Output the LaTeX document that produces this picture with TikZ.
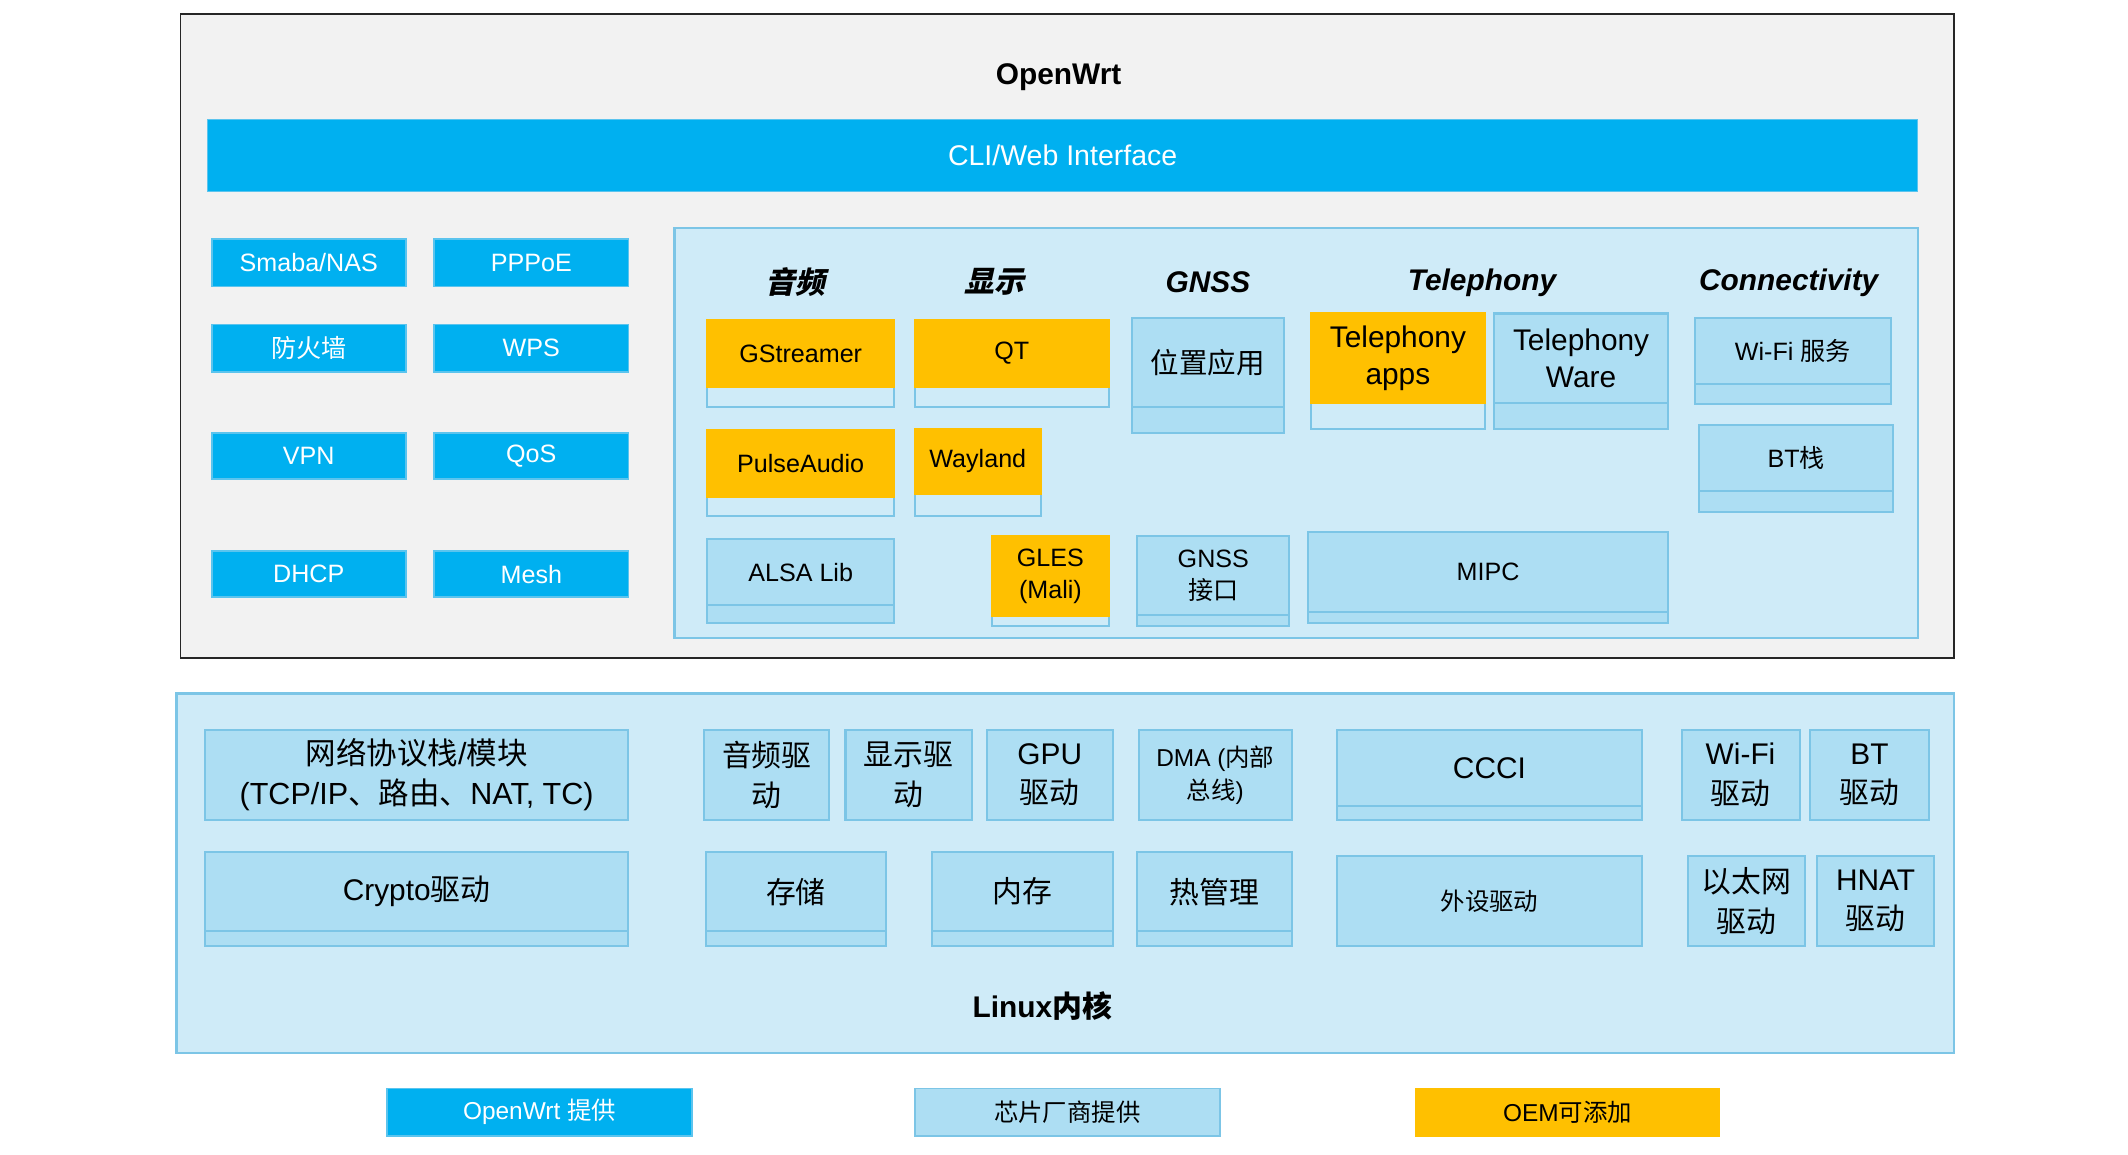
\documentclass[tikz,border=0pt]{standalone}
\usepackage{fontspec}
\setmainfont{Liberation Sans}
\newfontfamily\cjk{Noto Sans CJK SC}
\newfontfamily\cjksl{Noto Sans CJK SC}[FakeSlant=0.22]
\newcommand\zh[1]{{\cjk #1}}
\definecolor{bright}{HTML}{00B0F0}
\definecolor{brightedge}{HTML}{5BC4EE}
\definecolor{boxblue}{HTML}{ADDEF3}
\definecolor{panelblue}{HTML}{CFEBF8}
\definecolor{edgeblue}{HTML}{7CC5E6}
\definecolor{orange1}{HTML}{FFC000}
\definecolor{outerfill}{HTML}{F2F2F2}
\definecolor{outeredge}{HTML}{262626}
\tikzset{
  base/.style={inner sep=0pt, outer sep=0pt, align=center, anchor=north west, text=black},
  outer/.style={base, fill=outerfill, draw=outeredge, line width=1.4pt},
  panel/.style={base, fill=panelblue, draw=edgeblue, line width=1.6pt},
  brt/.style={base, fill=bright, draw=brightedge, line width=1.2pt, text=white, font=\fontsize{18.5}{22}\selectfont},
  lbx/.style={base, fill=boxblue, draw=edgeblue, line width=1.5pt, font=\fontsize{18.5}{23.5}\selectfont},
  obx/.style={base, fill=orange1, draw=orange1, line width=1.5pt, font=\fontsize{18.5}{23.5}\selectfont},
  ostrip/.style={base, fill=panelblue, draw=edgeblue, line width=1.5pt},
  bstrip/.style={base, fill=boxblue, draw=edgeblue, line width=1.5pt},
  big/.style={font=\fontsize{22}{27}\selectfont},
  kbx/.style={lbx, font=\fontsize{22}{29}\selectfont},
  hd/.style={inner sep=0pt, font=\fontsize{22}{26}\selectfont\bfseries\itshape},
  ttl/.style={inner sep=0pt, font=\fontsize{22}{26}\selectfont\bfseries},
  leg/.style={base, line width=1.2pt, font=\fontsize{18}{22}\selectfont}
}
% name, x1, y1, x2, y2, style, text
\newcommand\bx[7]{\node[#6, minimum width={(#4-#2)*1pt}, minimum height={(#5-#3)*1pt}] (#1) at (#2,#3) {#7};}
% name, x1, y1, x2, ydiv, y2, main style, strip style, text
\newcommand\tbx[9]{%
  \node[#8, minimum width={(#4-#2)*1pt}, minimum height={(#6-#5)*1pt}] (#1s) at (#2,#5) {};%
  \node[#7, minimum width={(#4-#2)*1pt}, minimum height={(#5-#3)*1pt}] (#1) at (#2,#3) {#9};}
\begin{document}
\begin{tikzpicture}[x={(1pt,0pt)}, y={(0pt,-1pt)}]
\useasboundingbox (0,0) rectangle (1568,851);
% ---------- OpenWrt ----------
\bx{owrt}{133}{10}{1440}{485}{outer}{}
\node[ttl] (title) at (780,57) {OpenWrt};
\bx{cli}{153}{88}{1413}{141}{brt, font=\fontsize{21}{25}\selectfont}{CLI/Web Interface}
\bx{smb}{156}{176}{299}{211}{brt}{Smaba/NAS}
\bx{ppp}{320}{176}{463}{211}{brt}{PPPoE}
\bx{fw}{156}{239}{299}{274}{brt}{\zh{防火墙}}
\bx{wps}{320}{239}{463}{274}{brt}{WPS}
\bx{vpn}{156}{319}{299}{353}{brt}{VPN}
\bx{qos}{320}{319}{463}{353}{brt}{QoS}
\bx{dhcp}{156}{406}{299}{440}{brt}{DHCP}
\bx{mesh}{320}{406}{463}{440}{brt}{Mesh}
\bx{app}{497}{168}{1413}{470}{panel}{}
\node[hd] (h1) at (586,208) {{\cjksl 音频}};
\node[hd] (h2) at (733,208) {{\cjksl 显示}};
\node[hd] (h3) at (890,208) {GNSS};
\node[hd] (h4) at (1092,208) {Telephony};
\node[hd] (h5) at (1318,208) {Connectivity};
\tbx{gst}{521}{236}{659}{285}{300}{obx}{ostrip}{GStreamer}
\tbx{qt}{674}{236}{817}{285}{300}{obx}{ostrip}{QT}
\tbx{pos}{834}{234}{946}{300}{319}{lbx, font=\fontsize{21}{25}\selectfont}{bstrip}{\zh{位置应用}}
\tbx{tapp}{966}{231}{1094}{297}{316}{obx, big}{ostrip}{Telephony\\apps}
\tbx{tware}{1101}{231}{1229}{297}{316}{lbx, big}{bstrip}{Telephony\\Ware}
\tbx{wifis}{1249}{234}{1393}{283}{298}{lbx}{bstrip}{Wi-Fi \zh{服务}}
\tbx{pulse}{521}{317}{659}{366}{380}{obx}{ostrip}{PulseAudio}
\tbx{wayl}{674}{316}{767}{364}{380}{obx}{ostrip}{Wayland}
\tbx{bts}{1252}{313}{1395}{362}{377}{lbx}{bstrip}{BT\zh{栈}}
\tbx{alsa}{521}{397}{659}{446}{459}{lbx}{bstrip}{ALSA Lib}
\tbx{gles}{731}{395}{817}{454}{461}{obx}{ostrip}{GLES\\(Mali)}
\tbx{gnssi}{838}{395}{950}{453}{461}{lbx}{bstrip}{GNSS\\\zh{接口}}
\tbx{mipc}{964}{392}{1229}{451}{459}{lbx}{bstrip}{MIPC}
% ---------- Linux kernel ----------
\bx{kern}{130}{511}{1440}{776}{panel}{}
\bx{net}{151}{538}{463}{604}{kbx, font=\fontsize{22.5}{29.5}\selectfont}{\zh{网络协议栈}/\zh{模块}\\(TCP/IP\zh{、路由、}NAT, TC)}
\bx{adrv}{519}{538}{611}{604}{kbx}{\zh{音频驱}\\\zh{动}}
\bx{ddrv}{623}{538}{716}{604}{kbx}{\zh{显示驱}\\\zh{动}}
\bx{gpu}{727}{538}{820}{604}{kbx}{GPU\\\zh{驱动}}
\bx{dma}{839}{538}{952}{604}{kbx, font=\fontsize{18}{24.5}\selectfont}{DMA (\zh{内部}\\\zh{总线})}
\tbx{ccci}{985}{538}{1210}{594}{604}{kbx, big}{bstrip}{CCCI}
\bx{wdrv}{1239}{538}{1326}{604}{kbx}{Wi-Fi\\\zh{驱动}}
\bx{bdrv}{1334}{538}{1421}{604}{kbx}{BT\\\zh{驱动}}
\tbx{cry}{151}{628}{463}{686}{697}{kbx}{bstrip}{Crypto\zh{驱动}}
\tbx{stor}{520}{628}{653}{686}{697}{kbx}{bstrip}{\zh{存储}}
\tbx{mem}{687}{628}{820}{686}{697}{kbx}{bstrip}{\zh{内存}}
\tbx{therm}{838}{628}{952}{686}{697}{kbx}{bstrip}{\zh{热管理}}
\bx{peri}{985}{631}{1210}{697}{kbx, font=\fontsize{18}{22}\selectfont}{\zh{外设驱动}}
\bx{eth}{1244}{631}{1330}{697}{kbx}{\zh{以太网}\\\zh{驱动}}
\bx{hnat}{1339}{631}{1425}{697}{kbx}{HNAT\\\zh{驱动}}
\node[ttl] (klabel) at (768,741) {Linux{\cjk\bfseries 内核}};
% ---------- legend ----------
\bx{leg1}{285}{802}{510}{837}{leg, fill=bright, draw=brightedge, text=white}{OpenWrt \zh{提供}}
\bx{leg2}{674}{802}{899}{837}{leg, fill=boxblue, draw=edgeblue}{\zh{芯片厂商提供}}
\bx{leg3}{1043}{802}{1267}{837}{leg, fill=orange1, draw=orange1}{OEM\zh{可添加}}
\end{tikzpicture}
\end{document}
